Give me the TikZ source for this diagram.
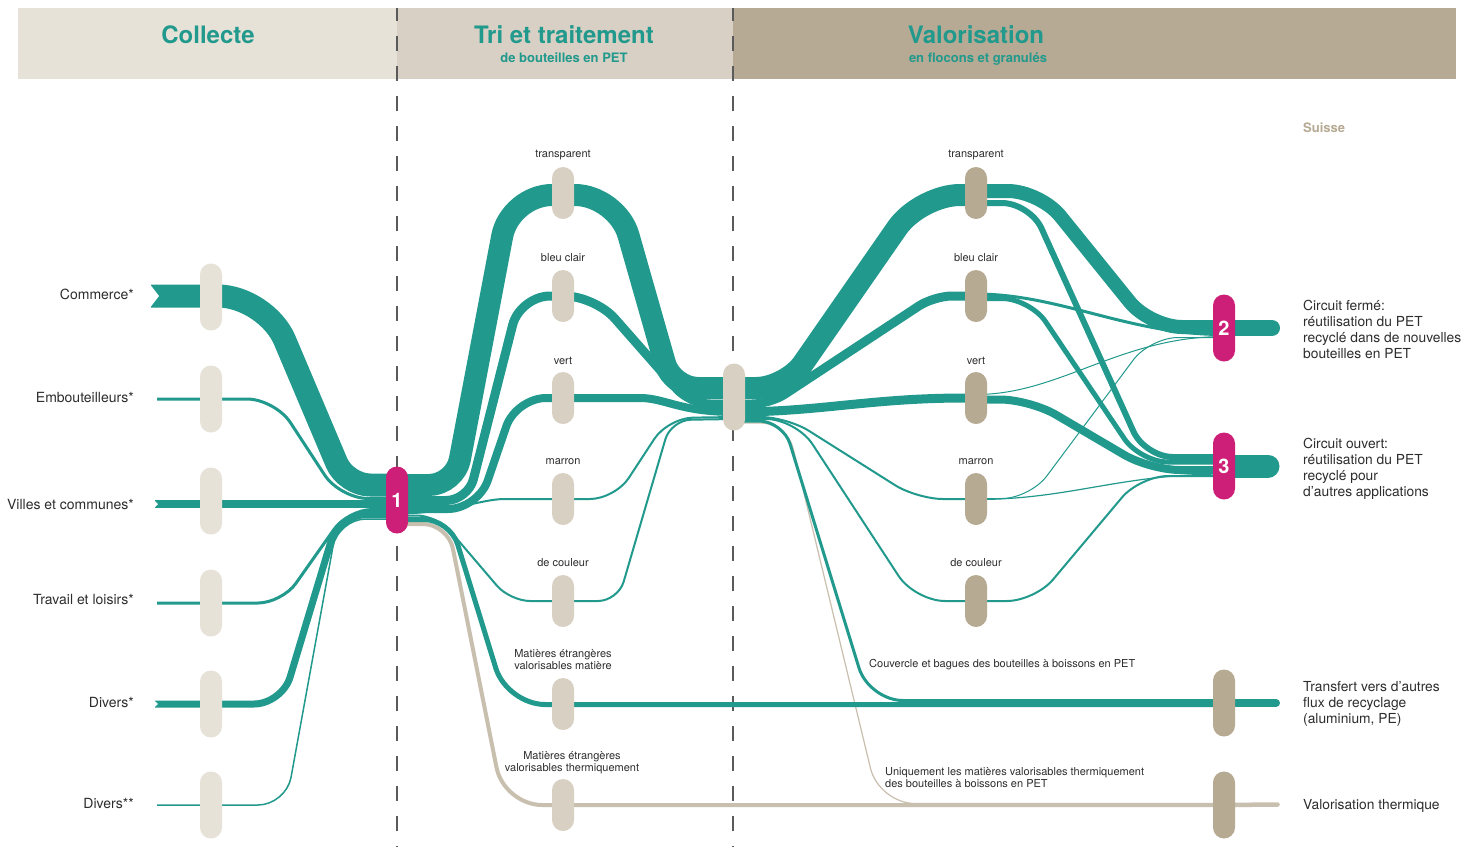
\documentclass[tikz,border=0pt]{standalone}
\usepackage{fontspec}
\setmainfont{TeX Gyre Heros}
\usetikzlibrary{calc}
\definecolor{cTeal}{RGB}{33,153,140}
\definecolor{cPink}{RGB}{205,31,119}
\definecolor{cPillA}{RGB}{230,226,216}
\definecolor{cPillB}{RGB}{216,208,195}
\definecolor{cPillC}{RGB}{182,170,147}
\definecolor{cBeige}{RGB}{200,191,174}
\definecolor{cTxt}{RGB}{45,45,45}
\definecolor{cDash}{RGB}{90,90,90}
\definecolor{cHeadA}{RGB}{230,226,216}
\definecolor{cHeadB}{RGB}{216,208,196}
\definecolor{cHeadC}{RGB}{182,170,148}
\pgfdeclarelayer{bg}
\pgfdeclarelayer{flows}
\pgfsetlayers{bg,flows,main}
\begin{document}
\begin{tikzpicture}[x=1pt,y=-1pt,
  tflow/.style={draw=cTeal, line cap=butt, line join=round},
  bflow/.style={draw=cBeige, line cap=butt, line join=round},
  pillbase/.style={rounded corners=11pt, minimum width=22pt, inner sep=0pt, outer sep=0pt, draw=none},
  pillA/.style={pillbase, fill=cPillA, minimum height=67pt},
  pillB/.style={pillbase, fill=cPillB, minimum height=52pt},
  pillBt/.style={pillbase, fill=cPillB, minimum height=67pt},
  pillC/.style={pillbase, fill=cPillC, minimum height=52pt},
  pillCt/.style={pillbase, fill=cPillC, minimum height=67pt},
  hubP/.style={pillbase, fill=cPink, minimum height=67pt, text=white, font=\fontsize{20}{20}\selectfont\bfseries},
  ttl/.style={anchor=base, text=cTeal, font=\fontsize{24}{26}\selectfont\bfseries, inner sep=0pt},
  subttl/.style={anchor=base, text=cTeal, font=\fontsize{13}{14}\selectfont\bfseries, inner sep=0pt},
  lblL/.style={anchor=base east, text=cTxt, font=\fontsize{14}{16}\selectfont, inner sep=0pt},
  lblR/.style={anchor=base west, text=cTxt, font=\fontsize{13.8}{16}\selectfont, inner sep=0pt},
  lblS/.style={anchor=base, text=cTxt, font=\fontsize{11}{12}\selectfont, inner sep=0pt},
  lblSw/.style={anchor=base west, text=cTxt, font=\fontsize{11}{12}\selectfont, inner sep=0pt},
  dashline/.style={draw=cDash, line width=1.2pt, dash pattern=on 15pt off 15pt, dash phase=2pt}
]
\useasboundingbox (0,0) rectangle (1465,847);

% ---------- pills and hubs (main layer) ----------
\node[pillA] (c1) at (211,297) {};
\node[pillA] (c2) at (211,399) {};
\node[pillA] (c3) at (211,501) {};
\node[pillA] (c4) at (211,603) {};
\node[pillA] (c5) at (211,704) {};
\node[pillA] (c6) at (211,805) {};
\node[hubP] (h1) at (397,500) {1};
\node[pillB] (t1) at (563,193) {};
\node[pillB] (t2) at (563,296) {};
\node[pillB] (t3) at (563,398) {};
\node[pillB] (t4) at (563,499) {};
\node[pillB] (t5) at (563,601) {};
\node[pillB] (t6) at (563,704) {};
\node[pillB] (t7) at (563,805) {};
\node[pillBt] (hT) at (734,397) {};
\node[pillC] (v1) at (976,193) {};
\node[pillC] (v2) at (976,296) {};
\node[pillC] (v3) at (976,398) {};
\node[pillC] (v4) at (976,499) {};
\node[pillC] (v5) at (976,601) {};
\node[hubP] (h2) at (1224,328) {2};
\node[hubP] (h3) at (1224,466) {3};
\node[pillCt] (h4) at (1224,703) {};
\node[pillCt] (h5) at (1224,805) {};

\coordinate (s1) at (151,296);
\coordinate (s2) at (157,399);
\coordinate (s3) at (155,504);
\coordinate (s4) at (157,603);
\coordinate (s5) at (155,704);
\coordinate (s6) at (157,805);
\coordinate (e2) at (1272,328);
\coordinate (e3) at (1268,466);
\coordinate (e4) at (1276,703);
\coordinate (e5) at (1277.5,804.5);

% ---------- background: header and dashed lines ----------
\begin{pgfonlayer}{bg}
\fill[white] (0,0) rectangle (1465,847);
\fill[cHeadA] (18,8) rectangle (397,79);
\fill[cHeadB] (397,8) rectangle (733,79);
\fill[cHeadC] (733,8) rectangle (1456,79);
\draw[dashline] (397,8) -- (397,847);
\draw[dashline] (733,8) -- (733,847);
\end{pgfonlayer}

% ---------- flows ----------
\begin{pgfonlayer}{flows}
% beige (thermal)
\draw[bflow, line width=4pt] ($(h1)+(0,24)$) [rounded corners=25pt] -- (448,524) [rounded corners=38pt] -- (504,805) -- (h5);
\draw[bflow, line width=1.2pt] ($(hT)+(0,26)$) [rounded corners=26pt] -- (787,423) [rounded corners=36pt] -- (879,803.5) -- ($(h5)+(0,-1.5)$);
\draw[bflow, line width=4.5pt, line cap=round] (h5) -- (e5);

% collection -> hub 1
\draw[tflow, line width=1.5pt, rounded corners=28pt] (s6) -- (286,805) -- (338,519) -- ($(h1)+(0,19)$);
\draw[tflow, line width=3pt, rounded corners=24pt] (s4) -- (282,603) -- (348,509.5) -- ($(h1)+(0,9.5)$);
\draw[tflow, line width=7pt, rounded corners=28pt] (s5) -- (282,704) -- (339,514.5) -- ($(h1)+(0,14.5)$);
\draw[tflow, line width=3pt, rounded corners=28pt] (s2) -- (275,399) -- (340,498.5) -- ($(h1)+(0,-1.5)$);
\draw[tflow, line width=8pt] (s3) -- ($(h1)+(0,4)$);
\draw[tflow, line width=23pt] (s1) [rounded corners=48pt] -- (266,296) [rounded corners=24pt] -- (346,485) -- ($(h1)+(0,-15)$);
\fill[white] (149,283) -- (159,296) -- (149,309) -- cycle;
\fill[white] (153,499) -- (158,504) -- (153,509) -- cycle;
\fill[white] (153,699.5) -- (158,704) -- (153,708.5) -- cycle;

% hub 1 -> sorting -> hub T
\draw[tflow, line width=2pt, rounded corners=20pt] ($(h1)+(0,15.5)$) -- (437,515.5) -- (510,601) -- (618,601) -- (671,420) -- ($(hT)+(0,22)$);
\draw[tflow, line width=2pt, rounded corners=25pt] ($(h1)+(0,13.5)$) .. controls (450,513.5) and (480,499) .. (530,499) -- (615,499) -- (668,418) -- ($(hT)+(0,20)$);
\draw[tflow, line width=5pt] ($(h1)+(0,19.5)$) [rounded corners=26pt] -- (450,519.5) [rounded corners=38pt] -- (507,704.5) -- ($(h4)+(0,1.5)$);
\draw[tflow, line width=8pt, rounded corners=30pt] ($(h1)+(0,9)$) -- (478,509) -- (516,398) -- (610,398) .. controls (665,398) and (680,412) .. ($(hT)+(0,15)$);
\draw[tflow, line width=9pt] ($(h1)+(0,0.5)$) [rounded corners=22pt] -- (468,500.5) [rounded corners=30pt] -- (520,296) -- (595,296) [rounded corners=20pt] -- (690,404) -- ($(hT)+(0,7)$);
\draw[tflow, line width=22pt] ($(h1)+(0,-15)$) [rounded corners=26pt] -- (455,485) [rounded corners=42pt] -- (510,195) -- (617,195) [rounded corners=26pt] -- (672,388) -- ($(hT)+(0,-9)$);

% hub T -> valorisation
\draw[tflow, line width=3pt] ($(hT)+(0,24)$) [rounded corners=24pt] -- (783,421) [rounded corners=34pt] -- (869,700.5) -- ($(h4)+(0,-2.5)$);
\draw[tflow, line width=8pt, line cap=round] (h4) -- (e4);
\draw[tflow, line width=2pt, rounded corners=30pt] ($(hT)+(0,22)$) -- (796,419) -- (915,601) -- (v5);
\draw[tflow, line width=2pt, rounded corners=26pt] ($(hT)+(0,20)$) -- (787,417) -- (917,499) -- (v4);
\draw[tflow, line width=9pt] ($(hT)+(0,15)$) .. controls (820,412) and (870,398) .. (v3);
\draw[tflow, line width=9pt, rounded corners=18pt] ($(hT)+(0,7)$) -- (770,404) -- (934,296) -- (v2);
\draw[tflow, line width=22pt] ($(hT)+(0,-9)$) [rounded corners=30pt] -- (786,388) [rounded corners=40pt] -- (920,195) -- ($(v1)+(0,2)$);

% valorisation -> hubs 2 and 3
\draw[tflow, line width=2pt, rounded corners=28pt] (v5) -- (1035,601) -- (1140,476) -- ($(h3)+(0,10)$);
\draw[tflow, line width=1.2pt] ($(v4)+(0,0.5)$) .. controls (1070,499.5) and (1120,474) .. ($(h3)+(0,8)$);
\draw[tflow, line width=1pt, rounded corners=28pt] ($(v4)+(0,-0.5)$) -- (1030,498.5) -- (1150,337.5) -- ($(h2)+(0,9.5)$);
\draw[tflow, line width=1pt] ($(v3)+(0,-3.5)$) .. controls (1060,394.5) and (1120,336.5) .. ($(h2)+(0,8.5)$);
\draw[tflow, line width=8pt, rounded corners=30pt] ($(v3)+(0,1.5)$) -- (1030,399.5) -- (1150,470) -- ($(h3)+(0,4)$);
\draw[tflow, line width=3pt] ($(v2)+(0,-2)$) .. controls (1060,294) and (1130,335) .. ($(h2)+(0,6.5)$);
\draw[tflow, line width=5pt, rounded corners=28pt] ($(v2)+(0,2.5)$) -- (1030,298.5) -- (1140,462) -- ($(h3)+(0,-4)$);
\draw[tflow, line width=6pt, rounded corners=28pt] ($(v1)+(0,10)$) -- (1030,203) -- (1145,457) -- ($(h3)+(0,-9)$);
\draw[tflow, line width=14pt, rounded corners=32pt] ($(v1)+(0,-2)$) -- (1040,191) -- (1150,327) -- ($(h2)+(0,-1)$);

% hub outputs
\draw[tflow, line width=16pt, line cap=round] (h2) -- (e2);
\draw[tflow, line width=23pt, line cap=round] (h3) -- (e3);
\end{pgfonlayer}

% ---------- texts ----------
\node[ttl] (ttA) at (208,43) {Collecte};
\node[ttl] (ttB) at (564,43) {Tri et traitement};
\node[subttl] (stB) at (564,62) {de bouteilles en PET};
\node[ttl] (ttC) at (976,43) {Valorisation};
\node[subttl] (stC) at (978,62) {en flocons et granulés};

\node[lblL] (lc1) at (134,299) {Commerce*};
\node[lblL] (lc2) at (134,402) {Embouteilleurs*};
\node[lblL] (lc3) at (134,509) {Villes et communes*};
\node[lblL] (lc4) at (134,604) {Travail et loisirs*};
\node[lblL] (lc5) at (134,707) {Divers*};
\node[lblL] (lc6) at (134,808) {Divers**};

\node[lblS] (lt1) at (563,157) {transparent};
\node[lblS] (lt2) at (563,261) {bleu clair};
\node[lblS] (lt3) at (563,364) {vert};
\node[lblS] (lt4) at (563,464) {marron};
\node[lblS] (lt5) at (563,566) {de couleur};
\node[lblS] (lt6a) at (563,657) {Matières étrangères};
\node[lblS] (lt6b) at (563,669) {valorisables matière};
\node[lblS] (lt7a) at (572,759) {Matières étrangères};
\node[lblS] (lt7b) at (572,771) {valorisables thermiquement};

\node[lblS] (lv1) at (976,157) {transparent};
\node[lblS] (lv2) at (976,261) {bleu clair};
\node[lblS] (lv3) at (976,364) {vert};
\node[lblS] (lv4) at (976,464) {marron};
\node[lblS] (lv5) at (976,566) {de couleur};

\node[lblSw] (lcv) at (869,667) {Couvercle et bagues des bouteilles à boissons en PET};
\node[lblSw] (lun1) at (885,775) {Uniquement les matières valorisables thermiquement};
\node[lblSw] (lun2) at (885,787) {des bouteilles à boissons en PET};

\node[anchor=base west, text=cPillC, font=\fontsize{13}{14}\selectfont\bfseries, inner sep=0pt] (lsu) at (1303,132) {Suisse};

\node[lblR] (r2a) at (1303,310) {Circuit fermé:};
\node[lblR] (r2b) at (1303,326) {réutilisation du PET};
\node[lblR] (r2c) at (1303,342) {recyclé dans de nouvelles};
\node[lblR] (r2d) at (1303,358) {bouteilles en PET};
\node[lblR] (r3a) at (1303,448) {Circuit ouvert:};
\node[lblR] (r3b) at (1303,464) {réutilisation du PET};
\node[lblR] (r3c) at (1303,480) {recyclé pour};
\node[lblR] (r3d) at (1303,496) {d’autres applications};
\node[lblR] (r4a) at (1303,691) {Transfert vers d’autres};
\node[lblR] (r4b) at (1303,707) {flux de recyclage};
\node[lblR] (r4c) at (1303,723) {(aluminium, PE)};
\node[lblR] (r5) at (1303,809) {Valorisation thermique};
\end{tikzpicture}
\end{document}
